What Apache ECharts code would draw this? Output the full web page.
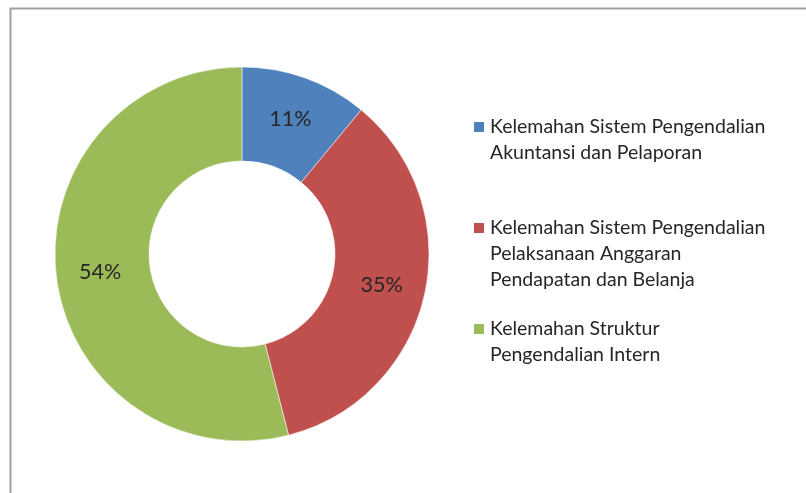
<!DOCTYPE html>
<html><head><meta charset="utf-8">
<script src="https://cdn.jsdelivr.net/npm/echarts@6/dist/echarts.min.js"></script>
<style>html,body{margin:0;padding:0;background:#fff}#c{width:806px;height:493px}</style>
</head><body><div id="c"></div>
<script>
const categories = [
  'Kelemahan Sistem Pengendalian Akuntansi dan Pelaporan',
  'Kelemahan Sistem Pengendalian Pelaksanaan Anggaran Pendapatan dan Belanja',
  'Kelemahan Struktur Pengendalian Intern'
];
const legendLines = [
  ['Kelemahan Sistem Pengendalian', 'Akuntansi dan Pelaporan'],
  ['Kelemahan Sistem Pengendalian', 'Pelaksanaan Anggaran', 'Pendapatan dan Belanja'],
  ['Kelemahan Struktur', 'Pengendalian Intern']
];
const values = [11, 35, 54];
const colors = ['#4F81BD', '#C0504D', '#9BBB59'];

const FONT = 'Lato';
const chart = echarts.init(document.getElementById('c'));

const graphics = [{
  type: 'rect', shape: {x: 10.5, y: 8.5, width: 820, height: 500},
  style: {fill: 'none', stroke: '#a0a0a0', lineWidth: 2}, silent: true
}];
const legendTops = [127, 228, 329];
legendLines.forEach((lines, i) => {
  graphics.push({type: 'rect', shape: {x: 474, y: legendTops[i] - 5, width: 10, height: 10}, style: {fill: colors[i]}});
  graphics.push({type: 'text', x: 490, y: legendTops[i] - 13,
    style: {text: lines.join('\n'), font: '19.5px ' + FONT, fill: '#262626', lineHeight: 26, verticalAlign: 'top'}});
});

chart.setOption({
  animation: false,
  graphic: graphics,
  series: [{
    type: 'pie',
    center: [242, 254],
    radius: [93, 187],
    startAngle: 90,
    clockwise: true,
    avoidLabelOverlap: false,
    itemStyle: {borderColor: '#fff', borderWidth: 0.5},
    label: {show: true, position: 'inside', formatter: '{c}%', fontSize: 21.5, fontFamily: FONT, color: '#262626'},
    labelLine: {show: false},
    emphasis: {disabled: true},
    data: categories.map((n, i) => ({name: n, value: values[i], itemStyle: {color: colors[i]}}))
  }]
});
</script></body></html>
